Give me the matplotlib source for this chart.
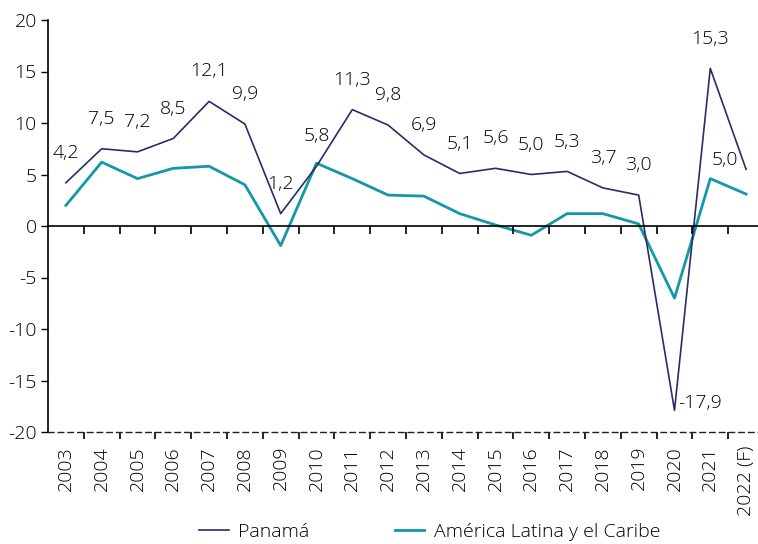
import matplotlib
matplotlib.use("Agg")
import matplotlib.pyplot as plt
import numpy as np

plt.rcParams['font.family'] = ['Open Sans', 'DejaVu Sans']
plt.rcParams['font.size'] = 14
plt.rcParams['font.weight'] = 'light'
plt.rcParams['axes.unicode_minus'] = False

years = ['2003', '2004', '2005', '2006', '2007', '2008', '2009', '2010', '2011', '2012',
         '2013', '2014', '2015', '2016', '2017', '2018', '2019', '2020', '2021', '2022 (F)']
panama = [4.2, 7.5, 7.2, 8.5, 12.1, 9.9, 1.2, 5.8, 11.3, 9.8,
          6.9, 5.1, 5.6, 5.0, 5.3, 3.7, 3.0, -17.9, 15.3, 5.5]
latam = [2.0, 6.2, 4.6, 5.6, 5.8, 4.0, -1.9, 6.1, 4.6, 3.0,
         2.9, 1.2, 0.1, -0.9, 1.2, 1.2, 0.2, -7.0, 4.6, 3.1]
panama_labels = ['4,2', '7,5', '7,2', '8,5', '12,1', '9,9', '1,2', '5,8', '11,3', '9,8',
                 '6,9', '5,1', '5,6', '5,0', '5,3', '3,7', '3,0', '-17,9', '15,3', '5,0']

navy = '#2a2c68'
teal = '#1497a6'

fig = plt.figure(figsize=(7.58, 5.44), dpi=100)
ax = fig.add_axes([48/758, 1-432/544, 716/758, 412/544])
x = np.arange(len(years))

ax.plot(x, panama, color=navy, lw=1.2, label='Panamá', zorder=3)
ax.plot(x, latam, color=teal, lw=2, label='América Latina y el Caribe', zorder=2)

# data labels (above the points, the last two special)
for i, (v, s) in enumerate(zip(panama, panama_labels)):
    if i == 17:
        ax.text(i + 0.1, v + 0.7, s, ha='left', va='center')
    elif i == 19:
        ax.text(i - 0.6, v + 0.9, s, ha='center', va='center')
    else:
        ax.text(i, v + 2.9, s, ha='center', va='center')

ax.set_xlim(-0.5, 19.5)
ax.set_ylim(-20, 20)
ax.set_yticks(range(-20, 21, 5))
ax.tick_params(axis='y', length=5, width=1, pad=3)

for s in ['top', 'right']:
    ax.spines[s].set_visible(False)
ax.spines['bottom'].set_linestyle((0, (4, 3)))
ax.spines['bottom'].set_linewidth(1)
ax.spines['bottom'].set_color('#222222')
ax.spines['left'].set_linewidth(1.2)

ax.set_xticks(x[:-1] + 0.5)
ax.set_xticklabels([])
ax.tick_params(axis='x', which='major', length=5, width=1.2, direction='out')
ax.set_xticks(x, minor=True)
ax.set_xticklabels(years, minor=True, rotation=90, va='top')
ax.tick_params(axis='x', which='minor', length=0, pad=10)

# zero line with downward ticks
ax2 = ax.twiny()
ax2.set_xlim(ax.get_xlim())
for s in ['bottom', 'right', 'left']:
    ax2.spines[s].set_visible(False)
ax2.spines['top'].set_position(('axes', 0.5))
ax2.spines['top'].set_linewidth(1.2)
ax2.set_xticks(x[:-1] + 0.5)
ax2.set_xticklabels([])
ax2.tick_params(axis='x', direction='in', length=6, width=1.2)

fig.legend(loc='center', bbox_to_anchor=(430/758, 1-532/544), ncol=2, frameon=False,
           handlelength=1.5, handletextpad=0.5, columnspacing=4.4)

fig.savefig('out.png', dpi=100)
